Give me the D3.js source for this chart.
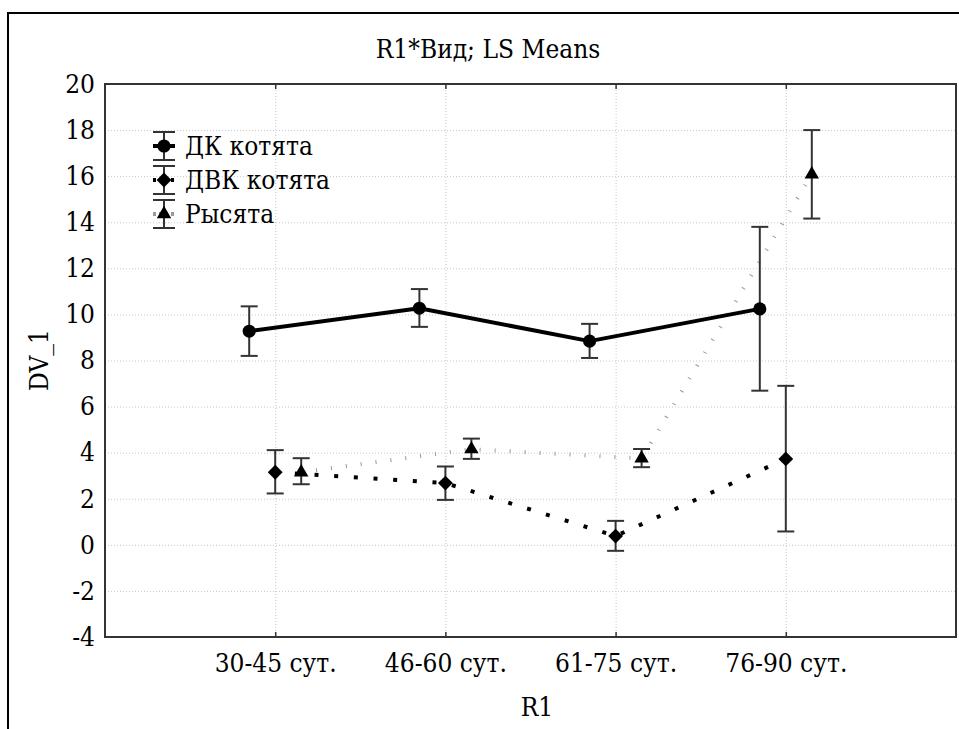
<!DOCTYPE html>
<html>
<head>
<meta charset="utf-8">
<script src="https://cdn.jsdelivr.net/npm/d3@7/dist/d3.min.js"></script>
<style>
  html, body { margin: 0; padding: 0; background: #fff; }
  svg { display: block; }
</style>
</head>
<body>
<svg id="chart" width="959" height="729"></svg>
<script>
// Categories and tick labels
const categories = ["30-45 сут.", "46-60 сут.", "61-75 сут.", "76-90 сут."];
const yTicks = [-4, -2, 0, 2, 4, 6, 8, 10, 12, 14, 16, 18, 20];
const seriesNames = ["ДК котята", "ДВК котята", "Рысята"];

// LS means with lower / upper confidence limits
const dkMean  = [9.27, 10.27, 8.84, 10.24];
const dkLow   = [8.20, 9.46, 8.11, 6.69];
const dkHigh  = [10.35, 11.10, 9.59, 13.80];

const dvkMean = [3.15, 2.68, 0.38, 3.73];
const dvkLow  = [2.23, 1.95, -0.26, 0.58];
const dvkHigh = [4.11, 3.40, 1.04, 6.90];

const lynxMean = [3.15, 4.15, 3.75, 16.08];
const lynxLow  = [2.63, 3.73, 3.37, 14.16];
const lynxHigh = [3.76, 4.61, 4.16, 18.00];

const FONT = "'DejaVu Serif Condensed', 'DejaVu Serif'";
const FS = 26;

const svg = d3.select("#chart");

const plot = { left: 105, right: 956, top: 84, bottom: 637 };

const x = d3.scalePoint().domain(categories).range([plot.left, plot.right]).padding(1);
const y = d3.scaleLinear().domain([-4, 20]).range([plot.bottom, plot.top]);

// Series styling
const series = [
  { name: seriesNames[0], mean: dkMean, low: dkLow, high: dkHigh, shift: -26,
    stroke: "#000", width: 4, dash: null, symbol: d3.symbolCircle, size: 135, rotate: 0 },
  { name: seriesNames[1], mean: dvkMean, low: dvkLow, high: dvkHigh, shift: 0,
    stroke: "#000", width: 4, dash: "4,15.7", symbol: d3.symbolSquare, size: 110, rotate: 45 },
  { name: seriesNames[2], mean: lynxMean, low: lynxLow, high: lynxHigh, shift: 26,
    stroke: "#999", width: 4, dash: "1,14", symbol: d3.symbolTriangle, size: 90, rotate: 0 }
];

// Outer frame
svg.append("path")
  .attr("d", "M8,729 V13 H959")
  .attr("fill", "none").attr("stroke", "#000").attr("stroke-width", 2);

// Title
svg.append("text")
  .attr("x", 488).attr("y", 58)
  .attr("text-anchor", "middle").attr("font-size", FS).attr("font-family", FONT)
  .text("R1*Вид; LS Means");

// Grid lines
const grid = svg.append("g").attr("stroke", "#c8c8c8").attr("stroke-width", 1).attr("stroke-dasharray", "1,2");
grid.selectAll("line.h").data(yTicks.filter(t => t > -4 && t < 20)).join("line")
  .attr("x1", plot.left).attr("x2", plot.right)
  .attr("y1", d => y(d) + 0.5).attr("y2", d => y(d) + 0.5);
grid.selectAll("line.v").data(categories).join("line")
  .attr("x1", d => x(d) + 0.5).attr("x2", d => x(d) + 0.5)
  .attr("y1", plot.top).attr("y2", plot.bottom);

// Plot frame
svg.append("rect")
  .attr("x", plot.left).attr("y", plot.top)
  .attr("width", plot.right - plot.left).attr("height", plot.bottom - plot.top)
  .attr("fill", "none").attr("stroke", "#333").attr("stroke-width", 2);

// Bottom axis (ticks pointing inward)
const xAxis = svg.append("g")
  .attr("transform", `translate(0,${plot.bottom})`)
  .call(d3.axisBottom(x).tickSize(-5).tickPadding(17))
  .attr("font-family", FONT).attr("font-size", FS);
xAxis.select(".domain").remove();
xAxis.selectAll("line").attr("stroke", "#333").attr("stroke-width", 1.5);
xAxis.selectAll("text").attr("fill", "#000");

// Top axis ticks
const xTop = svg.append("g")
  .attr("transform", `translate(0,${plot.top})`)
  .call(d3.axisTop(x).tickSize(-5).tickFormat(""));
xTop.select(".domain").remove();
xTop.selectAll("line").attr("stroke", "#333").attr("stroke-width", 1.5);

// Left axis labels (plain hyphen for negatives)
const yAxis = svg.append("g")
  .attr("transform", `translate(${plot.left},0)`)
  .call(d3.axisLeft(y).tickValues(yTicks).tickSize(0).tickPadding(10).tickFormat(d => String(d)))
  .attr("font-family", FONT).attr("font-size", FS);
yAxis.select(".domain").remove();
yAxis.selectAll("text").attr("fill", "#000");

// Axis titles
svg.append("text")
  .attr("transform", "translate(48,360) rotate(-90)")
  .attr("text-anchor", "middle").attr("font-size", FS).attr("font-family", FONT)
  .text("DV_1");
svg.append("text")
  .attr("x", 537).attr("y", 716)
  .attr("text-anchor", "middle").attr("font-size", FS).attr("font-family", FONT)
  .text("R1");

// Connecting lines
const line = d3.line();
const linesG = svg.append("g");
series.slice().reverse().forEach(s => {
  const pts = categories.map((c, i) => [x(c) + s.shift, y(s.mean[i])]);
  linesG.append("path")
    .attr("d", line(pts))
    .attr("fill", "none")
    .attr("stroke", s.stroke)
    .attr("stroke-width", s.width)
    .attr("stroke-dasharray", s.dash)
    .attr("stroke-linejoin", "round");
});

// Error bars and markers
const capHalf = 8.5;
series.forEach(s => {
  const g = svg.append("g");
  categories.forEach((c, i) => {
    const cx = x(c) + s.shift;
    const eb = g.append("g").attr("stroke", "#333").attr("stroke-width", 2);
    eb.append("line").attr("x1", cx).attr("x2", cx).attr("y1", y(s.low[i])).attr("y2", y(s.high[i]));
    eb.append("line").attr("x1", cx - capHalf).attr("x2", cx + capHalf).attr("y1", y(s.low[i])).attr("y2", y(s.low[i]));
    eb.append("line").attr("x1", cx - capHalf).attr("x2", cx + capHalf).attr("y1", y(s.high[i])).attr("y2", y(s.high[i]));
    g.append("path")
      .attr("d", d3.symbol().type(s.symbol).size(s.size)())
      .attr("transform", `translate(${cx},${y(s.mean[i])}) rotate(${s.rotate})`)
      .attr("fill", "#000");
  });
});

// Legend
const legend = svg.append("g").attr("transform", "translate(164,146)");
series.forEach((s, i) => {
  const row = legend.append("g").attr("transform", `translate(0,${i * 34})`);
  row.append("line").attr("x1", -11).attr("x2", 11).attr("y1", 0).attr("y2", 0)
    .attr("stroke", s.stroke).attr("stroke-width", s.width).attr("stroke-dasharray", s.dash ? "3,3" : null);
  const eb = row.append("g").attr("stroke", "#333").attr("stroke-width", 2);
  eb.append("line").attr("x1", 0).attr("x2", 0).attr("y1", -14).attr("y2", 14);
  eb.append("line").attr("x1", -11).attr("x2", 11).attr("y1", -14).attr("y2", -14);
  eb.append("line").attr("x1", -11).attr("x2", 11).attr("y1", 14).attr("y2", 14);
  row.append("path")
    .attr("d", d3.symbol().type(s.symbol).size(s.size)())
    .attr("transform", `rotate(${s.rotate})`)
    .attr("fill", "#000");
  row.append("text")
    .attr("x", 21).attr("y", 9)
    .attr("font-size", FS).attr("font-family", FONT)
    .text(s.name);
});
</script>
</body>
</html>
